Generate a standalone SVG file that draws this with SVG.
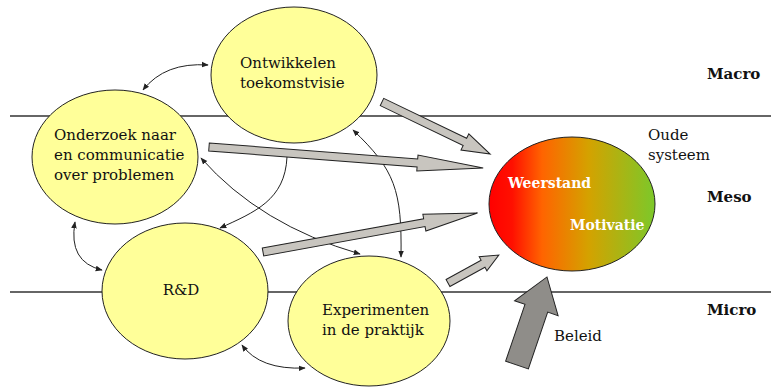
<svg xmlns="http://www.w3.org/2000/svg" width="771" height="389" viewBox="0 0 771 389">
<style>
.lvl{stroke:#333;stroke-width:1.5;fill:none}
.node{fill:#ffff99;stroke:#222;stroke-width:1}
text{font-family:'DejaVu Serif','Liberation Serif',serif;font-size:15px;fill:#111}
.b{font-weight:bold}
.w{fill:#fff;font-weight:bold;font-size:14px}
.con{fill:none;stroke:#222;stroke-width:1}
.blk{fill:#c8c5bf;stroke:#222;stroke-width:1}
.big{fill:#8f8d89;stroke:#222;stroke-width:1}
</style>
<defs>
<linearGradient id="g" x1="0" y1="0" x2="1" y2="0">
<stop offset="0" stop-color="#ff0000"/>
<stop offset="0.14" stop-color="#ff1000"/>
<stop offset="0.32" stop-color="#ff6400"/>
<stop offset="0.6" stop-color="#d4a200"/>
<stop offset="1" stop-color="#7cc82a"/>
</linearGradient>
<marker id="ah" viewBox="0 0 10 10" refX="9" refY="5" markerWidth="7" markerHeight="7" markerUnits="userSpaceOnUse" orient="auto-start-reverse">
<path d="M0,1 L10,5 L0,9 Z" fill="#222"/>
</marker>
</defs>
<g id="levels">
<line class="lvl" x1="10" y1="116" x2="771" y2="116"/>
<line class="lvl" x1="10" y1="292" x2="771" y2="292"/>
</g>
<g id="ontwikkelen">
<ellipse class="node" cx="294" cy="75" rx="83" ry="68"/>
<text x="240" y="68">Ontwikkelen</text>
<text x="240" y="88">toekomstvisie</text>
</g>
<g id="onderzoek">
<ellipse class="node" cx="115" cy="157" rx="83" ry="67"/>
<text x="54" y="140">Onderzoek naar</text>
<text x="54" y="160">en communicatie</text>
<text x="54" y="180">over problemen</text>
</g>
<g id="rd">
<ellipse class="node" cx="185" cy="291" rx="83" ry="68"/>
<text x="181" y="295" text-anchor="middle">R&amp;D</text>
</g>
<g id="experimenten">
<ellipse class="node" cx="369" cy="321" rx="81" ry="65"/>
<text x="322" y="315">Experimenten</text>
<text x="322" y="335">in de praktijk</text>
</g>
<g id="oude-systeem">
<ellipse cx="572" cy="204" rx="83" ry="67" fill="url(#g)" stroke="#222" stroke-width="1"/>
<text class="w" x="508" y="188">Weerstand</text>
<text class="w" x="570" y="230">Motivatie</text>
<text x="648" y="140">Oude</text>
<text x="648" y="160">systeem</text>
</g>
<g id="labels">
<text class="b" x="707" y="79">Macro</text>
<text class="b" x="707" y="202">Meso</text>
<text class="b" x="707" y="315">Micro</text>
<text x="554" y="341">Beleid</text>
</g>
<g id="connectors">
<path class="con" d="M143,90 Q165,62 208,65" marker-start="url(#ah)" marker-end="url(#ah)"/>
<path class="con" d="M75,222 Q68,262 102,270" marker-start="url(#ah)" marker-end="url(#ah)"/>
<path class="con" d="M242,345 Q260,370 305,368" marker-start="url(#ah)" marker-end="url(#ah)"/>
<path class="con" d="M287,157 C285,200 255,212 220,228" marker-end="url(#ah)"/>
<path class="con" d="M201,158 Q260,225 360,254" marker-start="url(#ah)" marker-end="url(#ah)"/>
<path class="con" d="M353,130 C395,170 402,190 401,257" marker-start="url(#ah)" marker-end="url(#ah)"/>
<path class="blk" transform="translate(382,102) rotate(25.7)" d="M0,-4 L92,-4 L92,-9 L120,0 L92,9 L92,4 L0,4 Z"/>
<path class="blk" transform="translate(209,147) rotate(4.38)" d="M0,-4 L209,-4 L209,-8 L275,0 L209,8 L209,4 L0,4 Z"/>
<path class="blk" transform="translate(263,252) rotate(-10.3)" d="M0,-4 L164,-4 L164,-8.5 L218,0 L164,8.5 L164,4 L0,4 Z"/>
<path class="blk" transform="translate(448,283) rotate(-28.8)" d="M0,-4 L40,-4 L40,-8 L58,0 L40,8 L40,4 L0,4 Z"/>
<path class="big" transform="translate(517,365) rotate(-71.2)" d="M0,-12 L60,-12 L60,-23 L93,0 L60,23 L60,12 L0,12 Z"/>
</g>
</svg>
